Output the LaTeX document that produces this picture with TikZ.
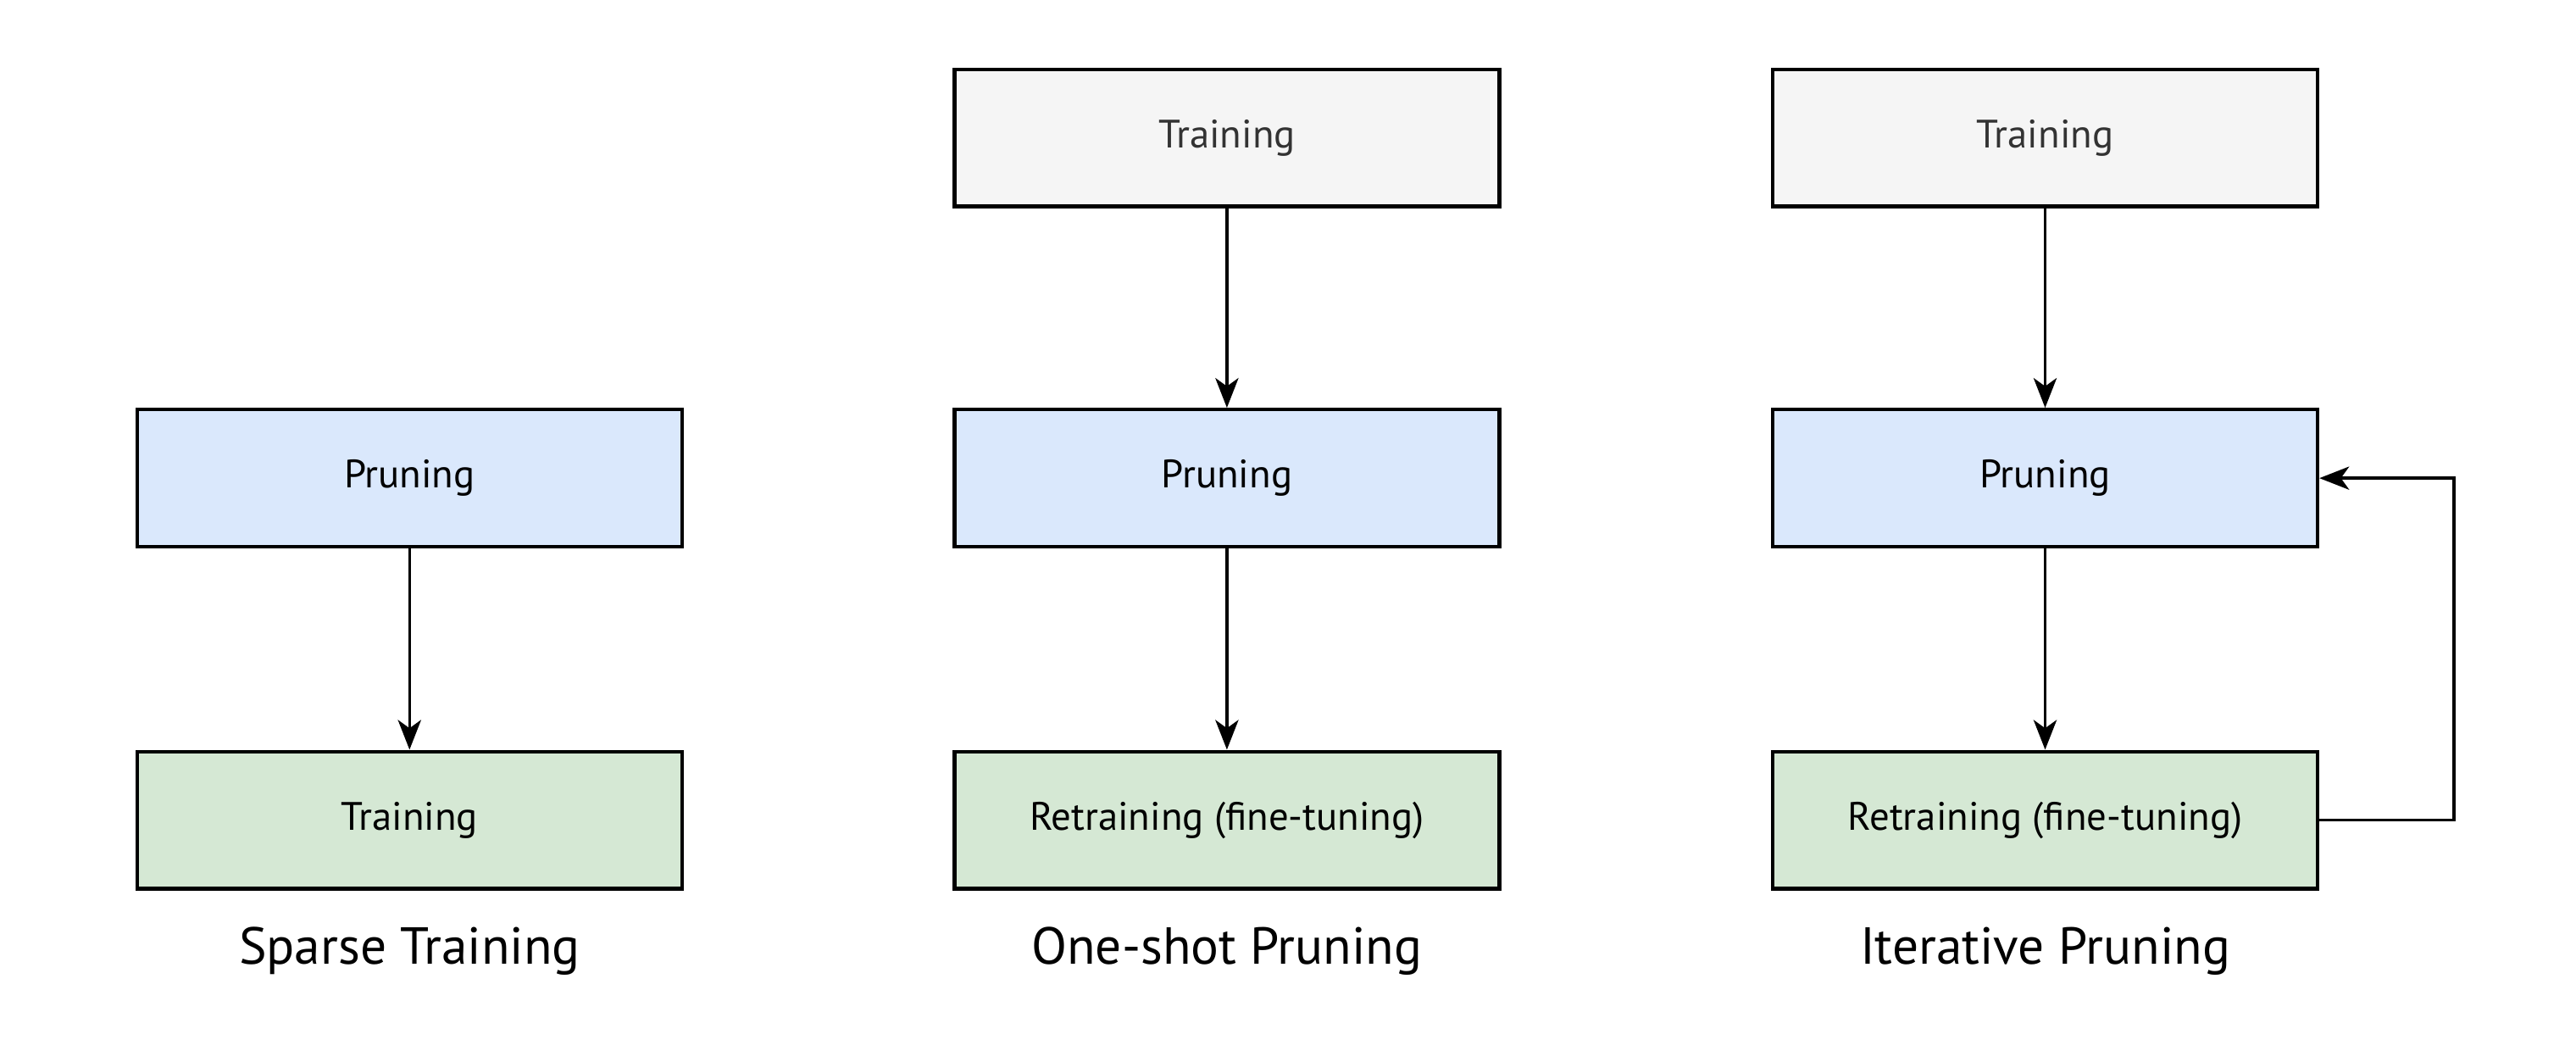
\documentclass[tikz,border=0pt]{standalone}
\usepackage{fontspec}
\setmainfont{PT Sans}
\usepackage{tikz}
\usetikzlibrary{arrows.meta,positioning}
\definecolor{grayfill}{HTML}{F5F5F5}
\definecolor{grayText}{HTML}{333333}
\definecolor{blueFill}{HTML}{DAE8FC}
\definecolor{greenFill}{HTML}{D5E8D4}

\begin{document}
\begin{tikzpicture}[x=1pt,y=1pt]
\tikzset{stage/.style = {shape=rectangle,draw,line width=2.2pt,minimum width=330pt,minimum height=83pt,font=\fontsize{24}{28}\selectfont}}
\tikzset{edge/.style = {-{Stealth[length=18pt,width=14pt,inset=5pt]},line width=1.8pt}}
\tikzset{caption/.style = {font=\fontsize{31.5}{37}\selectfont}}
\useasboundingbox (0,0) rectangle (1560,636);
% sparse training
\node[stage,fill=blueFill] (sp) at (248,346.5) {Pruning};
\node[stage,fill=greenFill] (st) at (248,139.5) {Training};
\node[caption] (sc) at (248,60) {Sparse Training};
% one-shot pruning
\node[stage,fill=grayfill,text=grayText] (ot) at (743,552.5) {Training};
\node[stage,fill=blueFill] (op) at (743,346.5) {Pruning};
\node[stage,fill=greenFill] (or) at (743,139.5) {Retraining (fine-tuning)};
\node[caption] (oc) at (743,60) {One-shot Pruning};
% iterative pruning
\node[stage,fill=grayfill,text=grayText] (it) at (1238.5,552.5) {Training};
\node[stage,fill=blueFill] (ip) at (1238.5,346.5) {Pruning};
\node[stage,fill=greenFill] (ir) at (1238.5,139.5) {Retraining (fine-tuning)};
\node[caption] (ic) at (1238.5,60) {Iterative Pruning};
\coordinate (loop) at (1486,0);
%edges
\draw[edge] (sp) to (st);
\draw[edge] (ot) to (op);
\draw[edge] (op) to (or);
\draw[edge] (it) to (ip);
\draw[edge] (ip) to (ir);
\draw[edge] (ir.east) -- (ir.east -| loop) -- (ip.east -| loop) -- (ip.east);
\end{tikzpicture}
\end{document}
